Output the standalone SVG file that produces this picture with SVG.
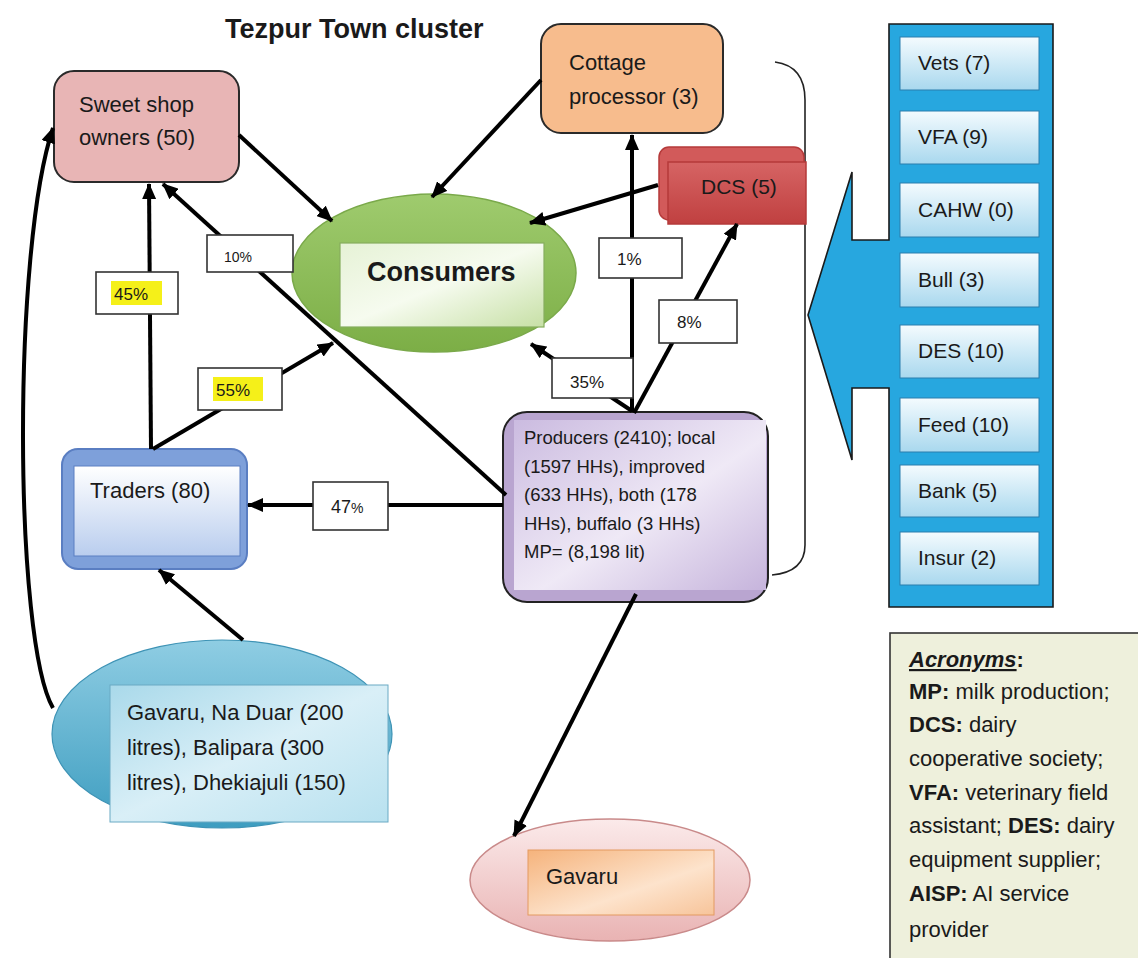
<svg xmlns="http://www.w3.org/2000/svg" width="1138" height="958" viewBox="0 0 1138 958">
  <style>
    text { font-family: "Liberation Sans", Arial, sans-serif; fill: #1a1a1a; }
    .node { font-size: 22px; }
    .prod { font-size: 18.5px; }
    .side { font-size: 21px; }
    .leg { font-size: 22px; }
    .pct { font-size: 17px; }
    .conn { stroke: #000; stroke-width: 4; fill: none; marker-end: url(#ah); }
    .lbl { fill: #fff; stroke: #333; stroke-width: 1.6; }
    .hl { fill: #f5f019; }
    .btn { fill: url(#gBtn); stroke: #2a7fae; stroke-width: 1; }
  </style>
  <defs>
    <marker id="ah" markerUnits="userSpaceOnUse" markerWidth="16" markerHeight="14" refX="15" refY="7" orient="auto">
      <path d="M0,0 L16,7 L0,14 z" fill="#000"/>
    </marker>
    <linearGradient id="gCons" x1="0" y1="0" x2="0" y2="1">
      <stop offset="0" stop-color="#9fcb6e"/>
      <stop offset="1" stop-color="#7cae46"/>
    </linearGradient>
    <linearGradient id="gConsIn" x1="0" y1="0" x2="1" y2="1">
      <stop offset="0" stop-color="#e6f2d6"/>
      <stop offset="0.5" stop-color="#f6fbef"/>
      <stop offset="1" stop-color="#c7e0a6"/>
    </linearGradient>
    <linearGradient id="gTrad" x1="0" y1="0" x2="0" y2="1">
      <stop offset="0" stop-color="#ffffff"/>
      <stop offset="1" stop-color="#b9cdee"/>
    </linearGradient>
    <linearGradient id="gProd" x1="0" y1="0" x2="1" y2="1">
      <stop offset="0" stop-color="#cbbbe0"/>
      <stop offset="0.55" stop-color="#efe9f6"/>
      <stop offset="1" stop-color="#c6b4dc"/>
    </linearGradient>
    <linearGradient id="gBtn" x1="0" y1="0" x2="0" y2="1">
      <stop offset="0" stop-color="#f4fbfe"/>
      <stop offset="1" stop-color="#a9d8ee"/>
    </linearGradient>
    <linearGradient id="gSrc" x1="0" y1="0" x2="0" y2="1">
      <stop offset="0" stop-color="#8fcde3"/>
      <stop offset="1" stop-color="#3d9dc0"/>
    </linearGradient>
    <linearGradient id="gSrcIn" x1="0" y1="0" x2="1" y2="1">
      <stop offset="0" stop-color="#a9d9ea"/>
      <stop offset="0.5" stop-color="#d9eff7"/>
      <stop offset="1" stop-color="#b8e1ef"/>
    </linearGradient>
    <linearGradient id="gGav" x1="0" y1="0" x2="0" y2="1">
      <stop offset="0" stop-color="#fbeaea"/>
      <stop offset="1" stop-color="#e9b3b3"/>
    </linearGradient>
    <linearGradient id="gGavIn" x1="0" y1="0" x2="1" y2="1">
      <stop offset="0" stop-color="#f5b37c"/>
      <stop offset="0.6" stop-color="#fde3cc"/>
      <stop offset="1" stop-color="#f7c49a"/>
    </linearGradient>
    <linearGradient id="gDcs" x1="0" y1="0" x2="0" y2="1">
      <stop offset="0" stop-color="#d66464"/>
      <stop offset="1" stop-color="#c04040"/>
    </linearGradient>
  </defs>

  <rect width="1138" height="958" fill="#fff"/>

  <text x="225" y="38" font-size="27" font-weight="bold">Tezpur Town cluster</text>

  <!-- bracket grouping the producer side -->
  <path d="M775 62 Q805 66 805 100 L805 545 Q805 572 772 575" fill="none" stroke="#222" stroke-width="1.6"/>

  <!-- support services panel with pointer -->
  <g id="services">
    <path d="M889 24 L1053 24 L1053 607 L889 607 L889 388 L852 388 L852 460 L808 315 L852 172 L852 240 L889 240 Z" fill="#27a7df" stroke="#1a1a1a" stroke-width="1.6"/>
    <g id="svc-vets"><rect class="btn" x="900" y="37" width="139" height="53"/><text class="side" x="918" y="70">Vets (7)</text></g>
    <g id="svc-vfa"><rect class="btn" x="900" y="111" width="139" height="53"/><text class="side" x="918" y="144">VFA (9)</text></g>
    <g id="svc-cahw"><rect class="btn" x="900" y="183" width="139" height="54"/><text class="side" x="918" y="217">CAHW (0)</text></g>
    <g id="svc-bull"><rect class="btn" x="900" y="253" width="139" height="54"/><text class="side" x="918" y="287">Bull (3)</text></g>
    <g id="svc-des"><rect class="btn" x="900" y="325" width="139" height="53"/><text class="side" x="918" y="358">DES (10)</text></g>
    <g id="svc-feed"><rect class="btn" x="900" y="398" width="139" height="54"/><text class="side" x="918" y="432">Feed (10)</text></g>
    <g id="svc-bank"><rect class="btn" x="900" y="465" width="139" height="52"/><text class="side" x="918" y="498">Bank (5)</text></g>
    <g id="svc-insur"><rect class="btn" x="900" y="532" width="139" height="53"/><text class="side" x="918" y="565">Insur (2)</text></g>
  </g>

  <!-- legend -->
  <g id="legend">
    <rect x="890" y="633" width="260" height="340" fill="#eef0dc" stroke="#333" stroke-width="1.6"/>
    <text class="leg" x="909" y="667"><tspan font-weight="bold" font-style="italic" text-decoration="underline">Acronyms</tspan><tspan font-weight="bold">:</tspan></text>
    <text class="leg" x="909" y="699"><tspan font-weight="bold">MP:</tspan> milk production;</text>
    <text class="leg" x="909" y="732"><tspan font-weight="bold">DCS:</tspan> dairy</text>
    <text class="leg" x="909" y="766">cooperative society;</text>
    <text class="leg" x="909" y="800"><tspan font-weight="bold">VFA:</tspan> veterinary field</text>
    <text class="leg" x="909" y="833">assistant; <tspan font-weight="bold">DES:</tspan> dairy</text>
    <text class="leg" x="909" y="867">equipment supplier;</text>
    <text class="leg" x="909" y="901"><tspan font-weight="bold">AISP:</tspan> AI service</text>
    <text class="leg" x="909" y="937">provider</text>
  </g>

  <!-- nodes -->
  <g id="sweet-shop">
    <rect x="54" y="71" width="185" height="111" rx="20" fill="#e8b5b5" stroke="#2a2a2a" stroke-width="2"/>
    <text class="node" x="79" y="112">Sweet shop</text>
    <text class="node" x="79" y="145">owners (50)</text>
  </g>

  <g id="cottage">
    <rect x="541" y="24" width="182" height="109" rx="20" fill="#f7bc8d" stroke="#2a2a2a" stroke-width="2"/>
    <text class="node" x="569" y="70">Cottage</text>
    <text class="node" x="569" y="104">processor (3)</text>
  </g>

  <g id="dcs">
    <rect x="659" y="147" width="145" height="73" rx="10" fill="#d25a5a" stroke="#b53a3a" stroke-width="1.5"/>
    <rect x="668" y="162" width="138" height="62" fill="url(#gDcs)" stroke="#b53a3a" stroke-width="1.5"/>
    <text class="side" x="701" y="194">DCS (5)</text>
  </g>

  <g id="consumers">
    <ellipse cx="434" cy="273" rx="142" ry="79" fill="url(#gCons)" stroke="#7aa94a" stroke-width="1.5"/>
    <rect x="340" y="243" width="204" height="84" fill="url(#gConsIn)" stroke="#86ad5e" stroke-width="1.2"/>
    <text x="367" y="281" font-size="27" font-weight="bold">Consumers</text>
  </g>

  <g id="traders">
    <rect x="62" y="449" width="185" height="120" rx="16" fill="#7ea0da" stroke="#5a7ec2" stroke-width="2"/>
    <rect x="74" y="466" width="166" height="90" fill="url(#gTrad)" stroke="#5a7ec2" stroke-width="1"/>
    <text class="node" x="90" y="498">Traders (80)</text>
  </g>

  <g id="producers">
    <rect x="503" y="412" width="265" height="190" rx="24" fill="#b9a5d0" stroke="#222" stroke-width="2"/>
    <rect x="514" y="420" width="252" height="170" fill="url(#gProd)"/>
    <text class="prod" x="524" y="444">Producers (2410); local</text>
    <text class="prod" x="524" y="473">(1597 HHs), improved</text>
    <text class="prod" x="524" y="501">(633 HHs), both (178</text>
    <text class="prod" x="524" y="530">HHs), buffalo (3 HHs)</text>
    <text class="prod" x="524" y="558">MP= (8,198 lit)</text>
  </g>

  <g id="source-villages">
    <ellipse cx="222" cy="734" rx="170" ry="94" fill="url(#gSrc)" stroke="#3e93b5" stroke-width="1.2"/>
    <rect x="110" y="685" width="278" height="137" fill="url(#gSrcIn)" stroke="#6aaac4" stroke-width="1"/>
    <text class="node" x="127" y="720">Gavaru, Na Duar (200</text>
    <text class="node" x="127" y="755">litres), Balipara (300</text>
    <text class="node" x="127" y="790">litres), Dhekiajuli (150)</text>
  </g>

  <g id="gavaru">
    <ellipse cx="610" cy="880" rx="140" ry="61" fill="url(#gGav)" stroke="#c98a8a" stroke-width="1.5"/>
    <rect x="528" y="850" width="186" height="65" fill="url(#gGavIn)" stroke="#e39a60" stroke-width="1"/>
    <text class="node" x="546" y="884">Gavaru</text>
  </g>

  <!-- connectors -->
  <g id="connectors">
    <path class="conn" d="M151 449 L149 184"/>
    <path class="conn" d="M153 449 L333 343"/>
    <path class="conn" d="M506 495 L163 184"/>
    <path class="conn" d="M239 135 L332 221"/>
    <path class="conn" d="M541 80 L432 197"/>
    <path class="conn" d="M658 185 L530 223"/>
    <path class="conn" d="M632 412 L632 135"/>
    <path class="conn" d="M634 413 L737 224"/>
    <path class="conn" d="M632 411 L531 344"/>
    <path class="conn" d="M503 505 L248 505"/>
    <path class="conn" d="M243 640 L159 570"/>
    <path class="conn" d="M636 594 L514 836"/>
    <path class="conn" stroke-width="3" d="M53 708 C14 640 12 250 53 128"/>

    <!-- flow share labels -->
    <g id="lbl-10"><rect class="lbl" x="207" y="235" width="86" height="37"/><text x="224" y="262" font-size="14">10%</text></g>
    <g id="lbl-45"><rect class="lbl" x="96" y="272" width="82" height="42"/><rect class="hl" x="111" y="281" width="51" height="24"/><text class="pct" x="114" y="300">45%</text></g>
    <g id="lbl-55"><rect class="lbl" x="198" y="368" width="84" height="42"/><rect class="hl" x="213" y="377" width="50" height="24"/><text class="pct" x="216" y="396">55%</text></g>
    <g id="lbl-1"><rect class="lbl" x="599" y="238" width="83" height="40"/><text class="pct" x="617" y="265">1%</text></g>
    <g id="lbl-8"><rect class="lbl" x="659" y="300" width="78" height="43"/><text class="pct" x="677" y="328">8%</text></g>
    <g id="lbl-35"><rect class="lbl" x="552" y="358" width="81" height="40"/><text class="pct" x="570" y="388">35%</text></g>
    <g id="lbl-47"><rect class="lbl" x="313" y="482" width="75" height="48"/><text x="331" y="513" font-size="18">47<tspan font-size="14">%</tspan></text></g>
  </g>
</svg>
